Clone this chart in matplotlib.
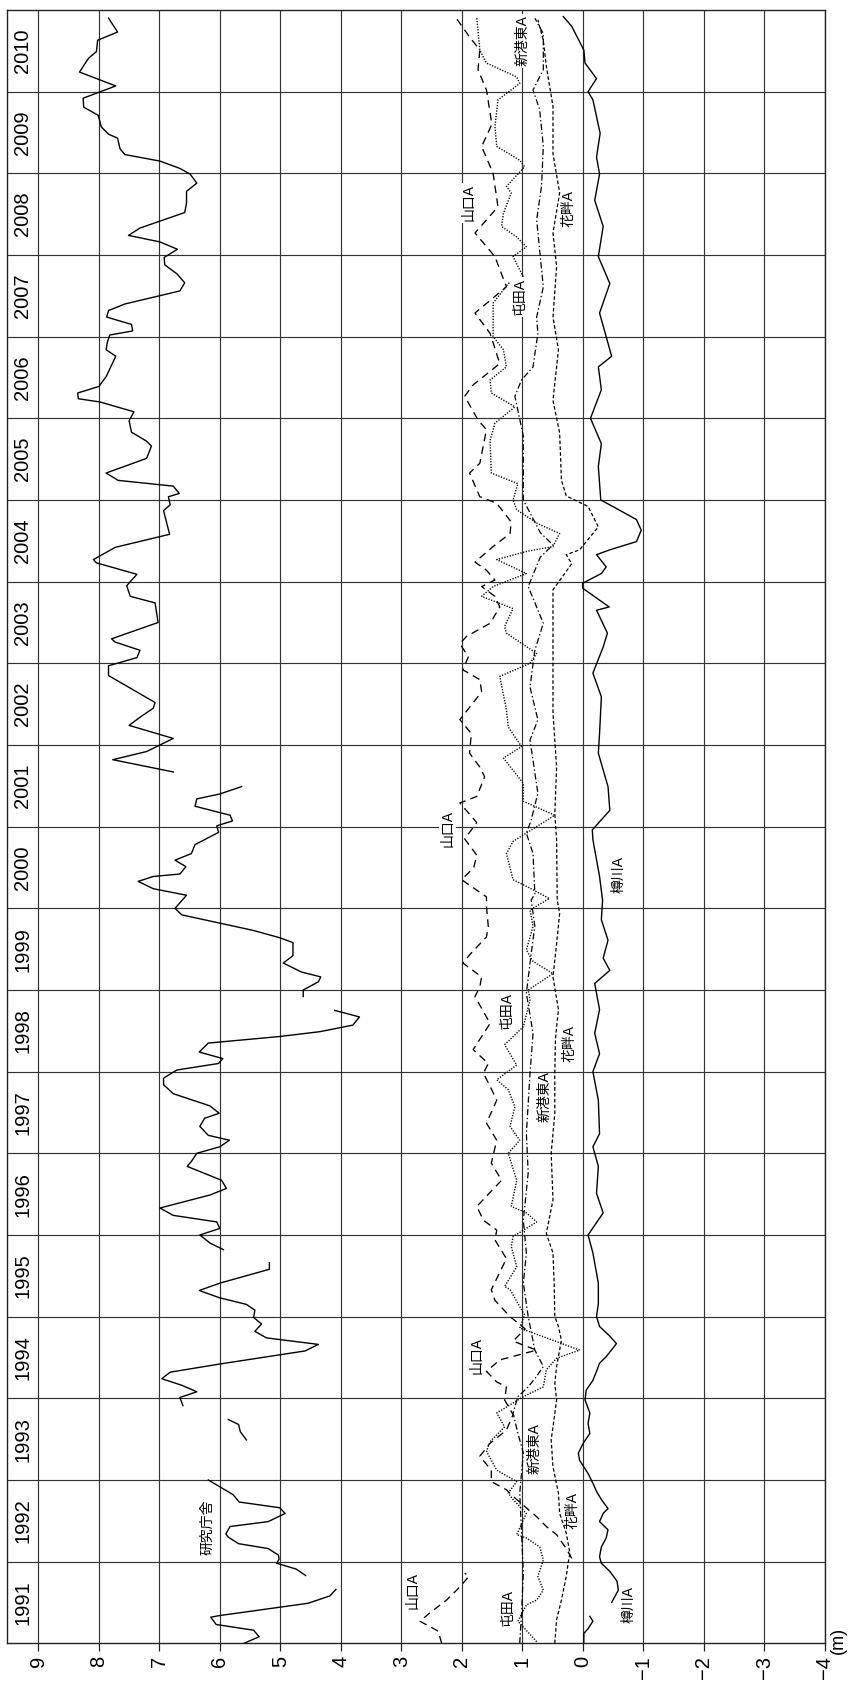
import numpy as np
import matplotlib
matplotlib.use('Agg')
import matplotlib.pyplot as plt

plt.rcParams['font.family'] = ['Liberation Sans', 'Noto Sans CJK JP']
plt.rcParams['lines.scale_dashes'] = False

nan = np.nan

# --- 研究庁舎 (solid, top) ---
kenkyu_t = [1991.00, 1991.08, 1991.16, 1991.23, 1991.32, 1991.34, 1991.49, 1991.58, 1991.66, nan,
            1991.83, 1991.91, 1991.98, 1992.03, 1992.08, 1992.16, 1992.22, 1992.30, 1992.34, 1992.43,
            1992.49, 1992.59, 1992.66, 1992.73, 1992.82, 1993.00, nan,
            1993.49, 1993.59, 1993.68, 1993.74, nan,
            1993.91, 1994.01, 1994.08, 1994.16, 1994.24, 1994.32, 1994.42, 1994.58, 1994.66, 1994.74,
            1994.82, 1994.91, 1994.99, 1995.08, 1995.15, 1995.23, 1995.32, 1995.41, 1995.58, 1995.66, nan,
            1995.82, 1995.90, 1996.00, 1996.08, 1996.16, 1996.24, 1996.33, 1996.49, 1996.57, 1996.67,
            1996.84, 1996.90, 1997.00, 1997.08, 1997.16, 1997.22, 1997.33, 1997.43, 1997.49, 1997.58,
            1997.73, 1997.84, 1997.92, 1998.02, 1998.10, 1998.16, 1998.24, 1998.35, 1998.43, 1998.49,
            1998.57, 1998.67, 1998.75, nan,
            1998.92, 1999.00, 1999.10, 1999.16, 1999.22, 1999.33, 1999.42, 1999.58, 1999.64, 1999.73,
            1999.92, 2000.00, 2000.16, 2000.24, 2000.33, 2000.39, 2000.42, 2000.51, 2000.59, 2000.67,
            2000.78, 2000.93, 2001.01, 2001.07, 2001.14, 2001.25, 2001.34, 2001.40, 2001.49, nan,
            2001.67, 2001.76, 2001.82, 2001.92, 2002.08, 2002.24, 2002.35, 2002.45, 2002.52, 2002.85,
            2002.97, 2003.07, 2003.16, 2003.26, 2003.30, 2003.50, 2003.74, 2003.82, 2003.95, 2004.09,
            2004.23, 2004.27, 2004.42, 2004.58, 2004.87, 2004.94, 2005.04, 2005.08, 2005.17, 2005.24,
            2005.33, 2005.51, 2005.66, 2005.72, 2005.83, 2005.97, 2006.08, 2006.20, 2006.24, 2006.31,
            2006.39, 2006.51, 2006.76, 2006.84, 2006.93, 2007.02, 2007.07, 2007.15, 2007.24, 2007.32,
            2007.40, 2007.56, 2007.66, 2007.77, 2007.88, 2007.97, 2008.07, 2008.16, 2008.24, 2008.33,
            2008.52, 2008.64, 2008.78, 2008.88, 2008.99, 2009.06, 2009.15, 2009.23, 2009.30, 2009.43,
            2009.48, 2009.57, 2009.71, 2009.81, 2009.92, 2010.07, 2010.24, 2010.41, 2010.49, 2010.63,
            2010.73, 2010.90]
kenkyu_v = [5.60, 5.35, 5.44, 6.06, 6.15, 6.00, 4.54, 4.18, 4.08, nan,
            4.58, 4.74, 5.06, 5.02, 5.03, 5.20, 5.69, 5.86, 5.90, 5.83,
            5.20, 4.92, 5.01, 5.68, 5.78, 6.19, nan,
            5.56, 5.66, 5.69, 5.86, nan,
            6.61, 6.66, 6.38, 6.63, 6.96, 6.82, 6.00, 4.59, 4.37, 5.23,
            5.42, 5.31, 5.44, 5.42, 5.56, 6.00, 6.34, 6.00, 5.18, 5.18, nan,
            5.94, 6.16, 6.33, 6.00, 6.05, 6.77, 6.99, 6.16, 5.89, 5.97,
            6.54, 6.47, 6.38, 6.00, 5.84, 6.19, 6.33, 6.25, 6.01, 6.16,
            6.77, 6.93, 6.93, 6.71, 6.02, 5.95, 6.34, 6.19, 5.01, 4.34,
            3.80, 3.69, 4.10, nan,
            4.62, 4.62, 4.37, 4.33, 4.65, 4.95, 4.79, 4.79, 5.01, 5.45,
            6.63, 6.74, 6.55, 7.10, 7.35, 7.10, 6.66, 6.56, 6.74, 6.47,
            6.41, 6.02, 6.05, 5.79, 5.83, 6.41, 6.38, 6.00, 5.64, nan,
            6.77, 7.37, 7.77, 7.21, 6.77, 7.50, 7.30, 7.10, 7.07, 7.84,
            7.84, 7.37, 7.32, 7.73, 7.79, 7.02, 7.07, 7.48, 7.54, 7.37,
            8.04, 8.09, 7.73, 6.83, 6.93, 6.82, 6.85, 6.67, 6.77, 7.68,
            7.88, 7.21, 7.13, 7.21, 7.46, 7.50, 7.42, 7.98, 8.34, 8.35,
            8.00, 7.88, 7.72, 7.88, 7.86, 7.82, 7.44, 7.46, 7.87, 7.84,
            7.57, 6.66, 6.58, 6.71, 6.91, 6.92, 6.70, 6.99, 7.51, 7.32,
            6.58, 6.55, 6.55, 6.38, 6.49, 6.66, 6.99, 7.57, 7.65, 7.69,
            7.84, 7.96, 8.01, 8.25, 8.26, 7.72, 8.32, 8.17, 8.04, 8.02,
            7.69, 7.84]

# --- 山口A (long dashes) ---
yamaguchi_t = [1991.00, 1991.15, 1991.27, 1991.37, 1991.53, 1991.69, 1991.82, 1991.86, nan,
               1992.04, 1992.16, 1992.33, 1992.43, 1992.55, 1992.69, 1992.80, 1992.88, 1992.98, 1993.12,
               1993.29, 1993.45, 1993.61, 1993.80, 1993.98, 1994.14, 1994.20, 1994.33, 1994.47, 1994.59,
               1994.70, 1994.85, 1995.00, 1995.20, 1995.33, 1995.71, 1995.94, 1996.06, 1996.18, 1996.35,
               1996.67, 1996.88, 1997.16, 1997.37, 1997.65, 1997.82, 1997.98, 1998.10, 1998.27, 1998.59,
               1998.92, 1999.04, 1999.16, 1999.33, 1999.43, 1999.65, 1999.78, 2000.02, 2000.14, 2000.35,
               2000.50, 2000.65, 2000.85, 2001.05, 2001.29, 2001.37, 2001.61, 2001.73, 2001.90, 2002.14,
               2002.31, 2002.65, 2002.80, 2002.92, 2003.08, 2003.24, 2003.33, 2003.49, 2003.69, 2003.82,
               2003.94, 2004.02, 2004.14, 2004.24, 2004.43, 2004.59, 2004.73, 2004.96, 2005.04, 2005.33,
               2005.45, 2005.86, 2005.98, 2006.27, 2006.41, 2006.67, 2007.04, 2007.29, 2007.61, 2007.98,
               2008.27, 2008.59, 2009.00, 2009.33, 2009.60, 2010.02, 2010.27, 2010.51, 2010.67, 2010.90]
yamaguchi_v = [2.33, 2.39, 2.69, 2.53, 2.25, 2.03, 1.88, 1.95, nan,
               0.18, 0.27, 0.43, 0.60, 0.76, 0.98, 1.15, 1.26, 1.51, 1.51,
               1.70, 1.53, 1.26, 1.15, 1.29, 1.26, 1.42, 1.59, 1.37, 0.76,
               1.15, 0.95, 1.20, 1.45, 1.51, 1.26, 1.45, 1.42, 1.64, 1.75,
               1.34, 1.51, 1.42, 1.59, 1.42, 1.53, 1.64, 1.56, 1.81, 1.53,
               1.78, 1.70, 1.67, 1.98, 1.87, 1.59, 1.56, 1.59, 1.59, 2.00,
               1.80, 1.75, 1.95, 1.75, 2.03, 1.75, 1.62, 1.70, 1.87, 1.84,
               2.03, 1.67, 1.70, 1.98, 1.89, 2.03, 1.92, 1.53, 1.37, 1.45,
               1.67, 1.45, 1.59, 1.78, 1.48, 1.20, 1.18, 1.42, 1.70, 1.87,
               1.70, 1.59, 1.73, 1.95, 1.81, 1.37, 1.53, 1.78, 1.26, 1.45,
               1.78, 1.40, 1.48, 1.67, 1.50, 1.59, 1.73, 1.70, 1.87, 2.09]

# --- 屯田A (dotted) ---
tonden_t = [1991.02, 1991.27, 1991.47, 1991.53, 1991.65, 1991.82, 1992.02, 1992.18, 1992.29, 1992.33,
            1992.51, 1992.59, 1992.76, 1992.84, 1992.98, 1993.12, 1993.35, 1993.47, 1993.65, 1993.82,
            1994.02, 1994.14, 1994.35, 1994.49, 1994.59, 1994.86, 1995.02, 1995.33, 1995.37, 1995.61,
            1995.86, 1995.98, 1996.16, 1996.27, 1996.35, 1996.67, 1997.00, 1997.16, 1997.33, 1997.57,
            1997.78, 1997.90, 1998.08, 1998.33, 1998.55, 1998.88, 1999.00, 1999.20, 1999.35, 1999.49,
            1999.78, 1999.98, 2000.12, 2000.27, 2000.35, 2000.67, 2000.82, 2001.14, 2001.31, 2001.53,
            2001.84, 2001.98, 2002.22, 2002.43, 2002.84, 2003.00, 2003.12, 2003.37, 2003.45, 2003.67,
            2003.82, 2003.94, 2004.10, 2004.27, 2004.37, 2004.43, 2004.59, 2004.71, 2004.88, 2005.00,
            2005.20, 2005.33, 2005.73, 2005.94, 2006.14, 2006.31, 2006.47, 2006.63, 2006.84, 2007.00,
            2007.41, 2007.65, 2007.73, 2007.98, 2008.10, 2008.22, 2008.35, 2008.51, 2008.76, 2008.84,
            2009.08, 2009.16, 2009.33, 2009.57, 2009.90, 2010.10, 2010.18, 2010.35, 2010.51, 2010.90]
tonden_v = [0.76, 1.07, 0.93, 0.76, 0.65, 0.74, 0.65, 0.71, 0.93, 1.09,
            0.98, 0.93, 1.15, 1.23, 1.09, 1.42, 1.59, 1.53, 1.29, 1.42,
            0.98, 0.65, 0.60, 0.43, 0.05, 1.04, 0.96, 1.20, 1.29, 1.09,
            1.18, 1.15, 0.76, 0.93, 1.18, 1.09, 1.23, 1.04, 1.20, 1.12,
            1.23, 1.42, 1.09, 1.29, 0.98, 0.87, 0.90, 0.49, 0.82, 0.93,
            0.82, 0.87, 0.55, 0.93, 1.15, 1.26, 1.15, 0.46, 0.98, 0.98,
            1.31, 1.01, 1.23, 1.26, 1.37, 0.87, 0.76, 1.26, 1.29, 1.15,
            1.67, 1.48, 0.93, 1.42, 0.93, 0.49, 0.38, 0.74, 1.09, 1.15,
            1.07, 1.51, 1.53, 1.45, 1.12, 1.51, 1.53, 1.26, 1.31, 1.48,
            1.48, 1.23, 0.98, 1.15, 0.93, 1.09, 1.34, 1.31, 1.18, 1.26,
            0.96, 1.04, 1.42, 1.45, 1.40, 1.04, 1.09, 1.59, 1.70, 1.75]

# --- 新港東A (dash-dot) ---
shinko_t = [1991.00, 1991.37, 1991.86, 1992.35, 1992.84, 1993.33, 1993.57, 1993.82, 1994.02, 1994.14,
            1994.27, 1994.39, 1994.59, 1995.00, 1995.41, 1995.78, 1996.18, 1996.76, 1997.24, 1997.98,
            1998.47, 1998.96, 1999.45, 1999.78, 2000.10, 2000.18, 2000.67, 2000.92, 2001.08, 2001.41,
            2002.06, 2002.31, 2002.71, 2003.16, 2003.49, 2003.94, 2004.30, 2004.45, 2004.60, 2005.00,
            2005.24, 2005.78, 2006.27, 2006.47, 2006.63, 2007.04, 2007.24, 2007.61, 2008.43, 2008.84,
            2009.33, 2009.78, 2010.02, 2010.27, 2010.71, 2010.90]
shinko_v = [1.04, 1.01, 0.98, 1.01, 1.04, 0.98, 1.07, 1.15, 1.07, 0.90,
            0.76, 0.65, 0.79, 0.90, 0.98, 0.93, 0.98, 0.90, 0.93, 0.87,
            0.82, 0.93, 0.85, 0.79, 0.85, 0.79, 0.82, 0.93, 0.85, 0.74,
            0.87, 0.74, 0.87, 0.79, 0.65, 0.90, 0.70, 0.49, 0.70, 0.98,
            0.98, 0.98, 1.12, 1.01, 0.82, 0.74, 0.76, 0.65, 0.76, 0.68,
            0.65, 0.71, 0.82, 0.65, 0.65, 0.79]

# --- 花畔A (short dashes) ---
banaguro_t = [1991.00, 1991.29, 1991.53, 1991.82, 1991.98, 1992.10, 1992.35, 1992.59, 1992.84, 1993.16,
              1993.49, 1993.65, 1993.98, 1994.18, 1994.39, 1994.71, 1994.88, 1995.00, 1995.40, 1995.78,
              1996.02, 1996.43, 1997.00, 1997.49, 1997.98, 1998.40, 1998.76, 1999.16, 1999.57, 1999.94,
              2000.10, 2000.84, 2001.16, 2001.73, 2002.39, 2002.96, 2003.90, 2004.22, 2004.33, 2004.39,
              2004.59, 2004.67, 2004.92, 2005.05, 2005.24, 2005.82, 2006.22, 2006.84, 2007.24, 2007.86,
              2008.27, 2008.76, 2009.24, 2009.82, 2010.31, 2010.63, 2010.88]
banaguro_v = [0.46, 0.43, 0.35, 0.27, 0.24, 0.21, 0.27, 0.38, 0.40, 0.49,
              0.52, 0.49, 0.43, 0.46, 0.43, 0.35, 0.40, 0.46, 0.47, 0.49,
              0.60, 0.49, 0.52, 0.46, 0.46, 0.45, 0.40, 0.49, 0.43, 0.38,
              0.42, 0.43, 0.46, 0.43, 0.49, 0.49, 0.49, 0.18, 0.27, 0.05,
              -0.17, -0.26, -0.09, 0.27, 0.35, 0.38, 0.49, 0.40, 0.49, 0.43,
              0.49, 0.38, 0.49, 0.49, 0.60, 0.65, 0.74]

# --- 樽川A (solid, bottom) ---
tarukawa_t = [1991.01, 1991.12, 1991.18, 1991.27, 1991.33, nan,
              1991.50, 1991.65, 1991.76, 1991.88, 1991.98, 1992.06, 1992.18, 1992.29, 1992.39, 1992.49,
              1992.59, 1992.65, 1992.76, 1992.86, 1992.96, 1993.08, 1993.24, 1993.33, 1993.45, 1993.57,
              1993.69, 1993.82, 1993.98, 1994.10, 1994.22, 1994.33, 1994.43, 1994.51, 1994.67, 1994.76,
              1994.88, 1995.00, 1995.16, 1995.41, 1995.78, 1996.00, 1996.27, 1996.51, 1996.84, 1997.08,
              1997.24, 1997.65, 1998.00, 1998.22, 1998.47, 1998.76, 1999.08, 1999.24, 1999.39, 1999.61,
              1999.86, 2000.10, 2000.39, 2000.84, 2000.96, 2001.20, 2001.49, 2001.90, 2002.14, 2002.59,
              2002.88, 2003.20, 2003.37, 2003.65, 2003.69, 2003.92, 2003.98, 2004.10, 2004.18, 2004.33,
              2004.39, 2004.49, 2004.63, 2004.76, 2004.92, 2005.00, 2005.41, 2005.69, 2006.00, 2006.35,
              2006.63, 2006.76, 2007.29, 2007.65, 2007.98, 2008.35, 2008.67, 2008.99, 2009.20, 2009.49,
              2009.90, 2010.00, 2010.16, 2010.35, 2010.51, 2010.80, 2010.92]
tarukawa_v = [-0.02, -0.02, -0.09, -0.17, -0.12, nan,
              -0.48, -0.59, -0.57, -0.45, -0.31, -0.28, -0.31, -0.39, -0.42, -0.28,
              -0.34, -0.42, -0.31, -0.23, -0.17, -0.09, 0.05, 0.07, -0.01, -0.12,
              -0.09, -0.12, -0.04, -0.06, -0.17, -0.23, -0.28, -0.39, -0.56, -0.45,
              -0.28, -0.23, -0.26, -0.26, -0.17, -0.09, -0.34, -0.23, -0.26, -0.17,
              -0.28, -0.26, -0.17, -0.28, -0.20, -0.28, -0.20, -0.45, -0.34, -0.42,
              -0.31, -0.33, -0.28, -0.17, -0.16, -0.45, -0.42, -0.26, -0.28, -0.31,
              -0.17, -0.34, -0.41, -0.23, -0.44, 0.00, 0.00, -0.31, -0.39, -0.23,
              -0.45, -0.89, -0.97, -0.89, -0.50, -0.30, -0.26, -0.31, -0.13, -0.31,
              -0.26, -0.48, -0.28, -0.45, -0.26, -0.34, -0.20, -0.28, -0.23, -0.29,
              -0.17, -0.09, -0.23, -0.04, -0.02, 0.18, 0.32]

years = list(range(1991, 2011))
levels = list(range(9, -5, -1))
level_labels = [str(v) if v >= 0 else '\u2212' + str(-v) for v in levels]

# station labels: (text, level, year, white background)
station_labels = [
    ('研究庁舎', 6.21, 1992.42, False),
    ('山口A', 2.81, 1991.65, False),
    ('屯田A', 1.24, 1991.44, False),
    ('樽川A', -0.75, 1991.47, False),
    ('花畔A', 0.16, 1992.63, False),
    ('新港東A', 0.79, 1993.39, False),
    ('山口A', 1.75, 1994.53, False),
    ('新港東A', 0.63, 1997.69, False),
    ('花畔A', 0.21, 1998.35, False),
    ('屯田A', 1.25, 1998.75, False),
    ('樽川A', -0.59, 2000.41, False),
    ('山口A', 2.24, 2000.98, True),
    ('屯田A', 1.04, 2007.49, True),
    ('花畔A', 0.24, 2008.57, False),
    ('山口A', 1.89, 2008.64, True),
    ('新港東A', 0.99, 2010.62, True),
]

W, H = 849, 1684
fig = plt.figure(figsize=(W / 100, H / 100), dpi=100)
ax = fig.add_axes([7.3 / W, 1 - 1643.3 / H, (824.5 - 7.3) / W, (1643.3 - 10) / H])
ax.set_xlim(9.514, -4)
ax.set_ylim(1991, 2011)

grid_kw = dict(color='#333333', lw=0.85, zorder=1)
for lv in levels:
    ax.axvline(lv, **grid_kw)
for yr in years[1:]:
    ax.axhline(yr, **grid_kw)
for sp in ax.spines.values():
    sp.set_linewidth(1.0)
    sp.set_color('#222222')

for yr in years:
    ax.text(9.257, yr + 0.5, str(yr), rotation=90, ha='center', va='center', fontsize=14.5)

line_kw = dict(color='black', zorder=3)
ax.plot(kenkyu_v, kenkyu_t, lw=1.0, ls='-', **line_kw)
ax.plot(yamaguchi_v, yamaguchi_t, lw=0.95, ls=(0, (5.5, 3.8)), **line_kw)
ax.plot(tonden_v, tonden_t, lw=1.0, ls=(0, (0.9, 1.1)), **line_kw)
ax.plot(shinko_v, shinko_t, lw=0.9, ls=(0, (4.5, 1.8, 1.0, 1.8)), **line_kw)
ax.plot(banaguro_v, banaguro_t, lw=0.9, ls=(0, (2.6, 1.6)), **line_kw)
ax.plot(tarukawa_v, tarukawa_t, lw=1.0, ls='-', **line_kw)

for name, lv, yr, bg in station_labels:
    kw = dict(rotation=90, ha='center', va='center', fontsize=10, zorder=5)
    if bg:
        kw['bbox'] = dict(facecolor='white', edgecolor='none', pad=1.0)
    ax.text(lv, yr, name, **kw)

ax.set_xticks(levels)
ax.set_xticklabels(level_labels, rotation=90, fontsize=14.5)
ax.set_yticks([])
ax.tick_params(axis='x', direction='out', length=6, width=0.9, pad=3, colors='#222222')
for lab in ax.get_xticklabels():
    lab.set_color('black')

fig.text(838 / W, 1 - 1640 / H, '(m)', rotation=90, ha='center', va='center', fontsize=13)

fig.savefig('out.png', dpi=100)
